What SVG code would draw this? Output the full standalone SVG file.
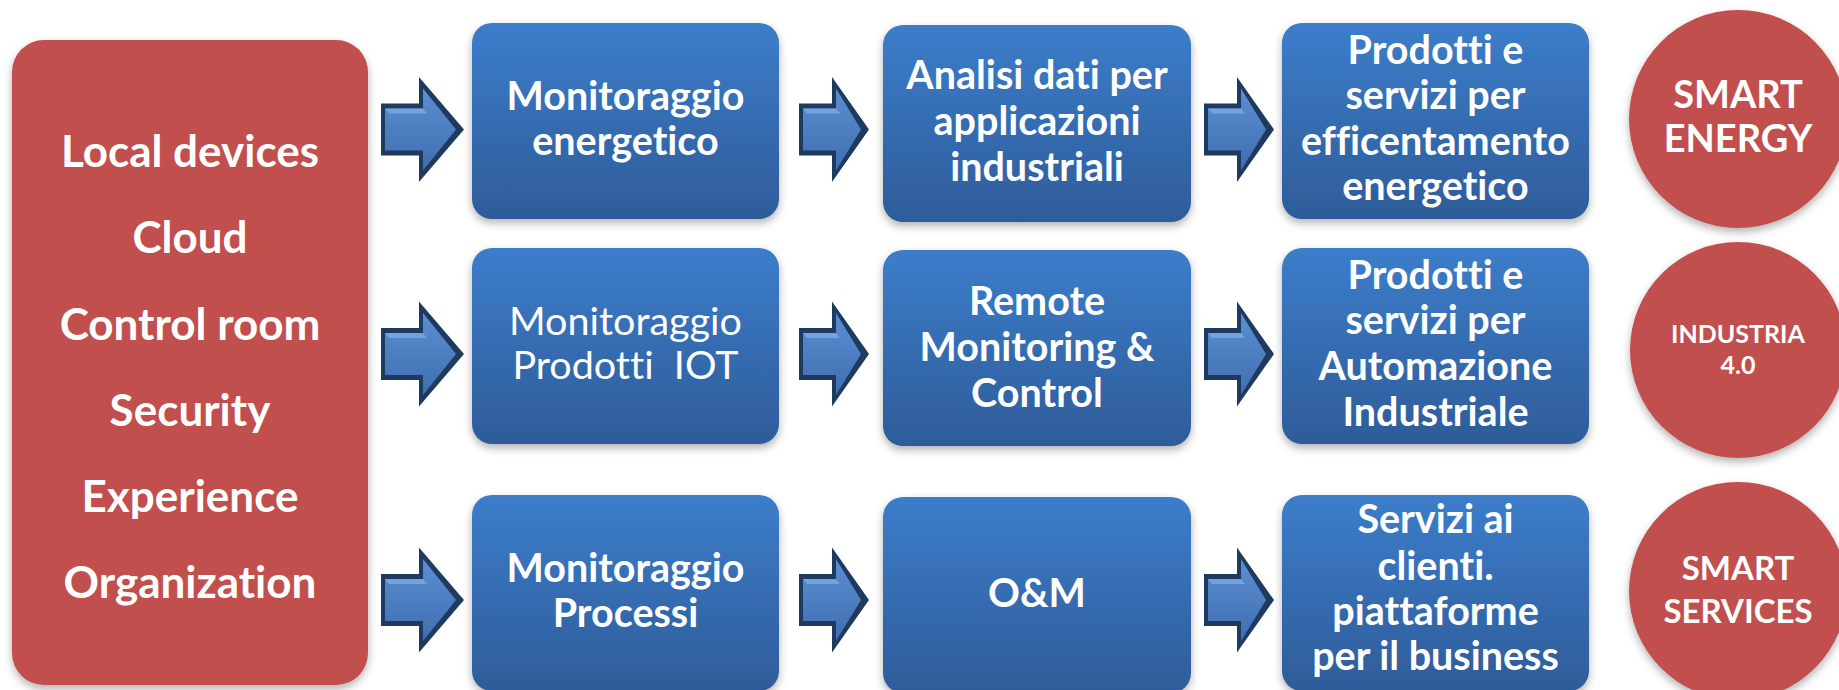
<svg xmlns="http://www.w3.org/2000/svg" width="1839" height="690" viewBox="0 0 1839 690">
<defs>
<style>
.t{font-family:Lato,"Open Sans","Liberation Sans",sans-serif;fill:#fff;text-anchor:middle;font-weight:700;font-variant-ligatures:none;font-feature-settings:"liga" 0,"clig" 0}
.reg{font-weight:400}
.red{fill:#c0504d}
.box{fill:url(#bg)}
.ao{fill:#1f3a5f}
.ai{fill:url(#ag)}
.ah{fill:#79a8e2;opacity:.85}
</style>
<linearGradient id="bg" x1="0" y1="0" x2="0" y2="1">
<stop offset="0" stop-color="#3c7dca"/>
<stop offset="1" stop-color="#2e5c99"/>
</linearGradient>
<linearGradient id="ag" x1="0" y1="0" x2="0" y2="1">
<stop offset="0" stop-color="#5b8fd2"/>
<stop offset="1" stop-color="#3f6eb0"/>
</linearGradient>
<filter id="sh" x="-10%" y="-10%" width="120%" height="130%">
<feDropShadow dx="0" dy="4" stdDeviation="4" flood-color="#000" flood-opacity="0.3"/>
</filter>
<g id="abig">
<polygon class="ao" points="0,-26 38,-26 38,-52.5 83,0 38,52.5 38,26 0,26"/>
<polygon class="ai" points="4,-21 42,-21 42,-41 75,0 42,41 42,21 4,21"/>
<polygon class="ah" points="4,-21 42,-21 46,-16 8,-16"/>
</g>
<g id="asm">
<polygon class="ao" points="0,-26 33,-26 33,-52.5 70,0 33,52.5 33,26 0,26"/>
<polygon class="ai" points="4,-21 37,-21 37,-41 62,0 37,41 37,21 4,21"/>
<polygon class="ah" points="4,-21 37,-21 41,-16 8,-16"/>
</g>
</defs>
<rect width="1839" height="690" fill="#fff"/>

<g id="sources">
<rect class="red" x="12" y="40" width="356" height="645" rx="32" filter="url(#sh)"/>
<text class="t" font-size="44"><tspan x="190" y="167">Local devices</tspan><tspan x="190" y="253">Cloud</tspan><tspan x="190" y="340">Control room</tspan><tspan x="190" y="426">Security</tspan><tspan x="190" y="512">Experience</tspan><tspan x="190" y="598">Organization</tspan></text>
</g>

<g id="connectors">
<use href="#abig" transform="translate(381,129.5)"/>
<use href="#asm" transform="translate(799,129.5)"/>
<use href="#asm" transform="translate(1204,129.5)"/>
<use href="#abig" transform="translate(381,354)"/>
<use href="#asm" transform="translate(799,354)"/>
<use href="#asm" transform="translate(1204,354)"/>
<use href="#abig" transform="translate(381,600)"/>
<use href="#asm" transform="translate(799,600)"/>
<use href="#asm" transform="translate(1204,600)"/>
</g>

<g id="mon-energetico">
<rect class="box" x="472" y="23" width="307" height="196" rx="20" filter="url(#sh)"/>
<text class="t" font-size="39.5"><tspan x="625.5" y="110">Monitoraggio</tspan><tspan x="625.5" y="155">energetico</tspan></text>
</g>
<g id="mon-iot">
<rect class="box" x="472" y="248" width="307" height="196" rx="20" filter="url(#sh)"/>
<text class="t reg" font-size="39.5" xml:space="preserve" style="white-space:pre"><tspan x="625.5" y="335">Monitoraggio</tspan><tspan x="625.5" y="379">Prodotti  IOT</tspan></text>
</g>
<g id="mon-processi">
<rect class="box" x="472" y="495" width="307" height="196" rx="20" filter="url(#sh)"/>
<text class="t" font-size="39.5"><tspan x="625.5" y="582">Monitoraggio</tspan><tspan x="625.5" y="627">Processi</tspan></text>
</g>

<g id="analisi">
<rect class="box" x="883" y="25" width="308" height="197" rx="20" filter="url(#sh)"/>
<text class="t" font-size="39.5"><tspan x="1037" y="89">Analisi dati per</tspan><tspan x="1037" y="135">applicazioni</tspan><tspan x="1037" y="181">industriali</tspan></text>
</g>
<g id="remote">
<rect class="box" x="883" y="250" width="308" height="196" rx="20" filter="url(#sh)"/>
<text class="t" font-size="39.5"><tspan x="1037" y="315">Remote</tspan><tspan x="1037" y="361">Monitoring &amp;</tspan><tspan x="1037" y="407">Control</tspan></text>
</g>
<g id="om">
<rect class="box" x="883" y="497" width="308" height="196" rx="20" filter="url(#sh)"/>
<text class="t" font-size="39.5"><tspan x="1037" y="607">O&amp;M</tspan></text>
</g>

<g id="prod-energia">
<rect class="box" x="1282" y="23" width="307" height="196" rx="20" filter="url(#sh)"/>
<text class="t" font-size="39.5"><tspan x="1435.5" y="64">Prodotti e</tspan><tspan x="1435.5" y="109">servizi per</tspan><tspan x="1435.5" y="155">efficentamento</tspan><tspan x="1435.5" y="200">energetico</tspan></text>
</g>
<g id="prod-automazione">
<rect class="box" x="1282" y="248" width="307" height="196" rx="20" filter="url(#sh)"/>
<text class="t" font-size="39.5"><tspan x="1435.5" y="289">Prodotti e</tspan><tspan x="1435.5" y="334">servizi per</tspan><tspan x="1435.5" y="380">Automazione</tspan><tspan x="1435.5" y="426">Industriale</tspan></text>
</g>
<g id="servizi-clienti">
<rect class="box" x="1282" y="495" width="307" height="196" rx="20" filter="url(#sh)"/>
<text class="t" font-size="39.5"><tspan x="1435.5" y="533">Servizi ai</tspan><tspan x="1435.5" y="580">clienti.</tspan><tspan x="1435.5" y="625">piattaforme</tspan><tspan x="1435.5" y="670">per il business</tspan></text>
</g>

<g id="smart-energy">
<circle class="red" cx="1738" cy="119" r="109" filter="url(#sh)"/>
<text class="t" font-size="38"><tspan x="1738" y="108">SMART</tspan><tspan x="1738" y="152">ENERGY</tspan></text>
</g>
<g id="industria">
<circle class="red" cx="1738" cy="350" r="108" filter="url(#sh)"/>
<text class="t" font-size="25"><tspan x="1738" y="343">INDUSTRIA</tspan><tspan x="1738" y="374">4.0</tspan></text>
</g>
<g id="smart-services">
<circle class="red" cx="1738" cy="591" r="109" filter="url(#sh)"/>
<text class="t" font-size="33"><tspan x="1738" y="580">SMART</tspan><tspan x="1738" y="623">SERVICES</tspan></text>
</g>
</svg>
